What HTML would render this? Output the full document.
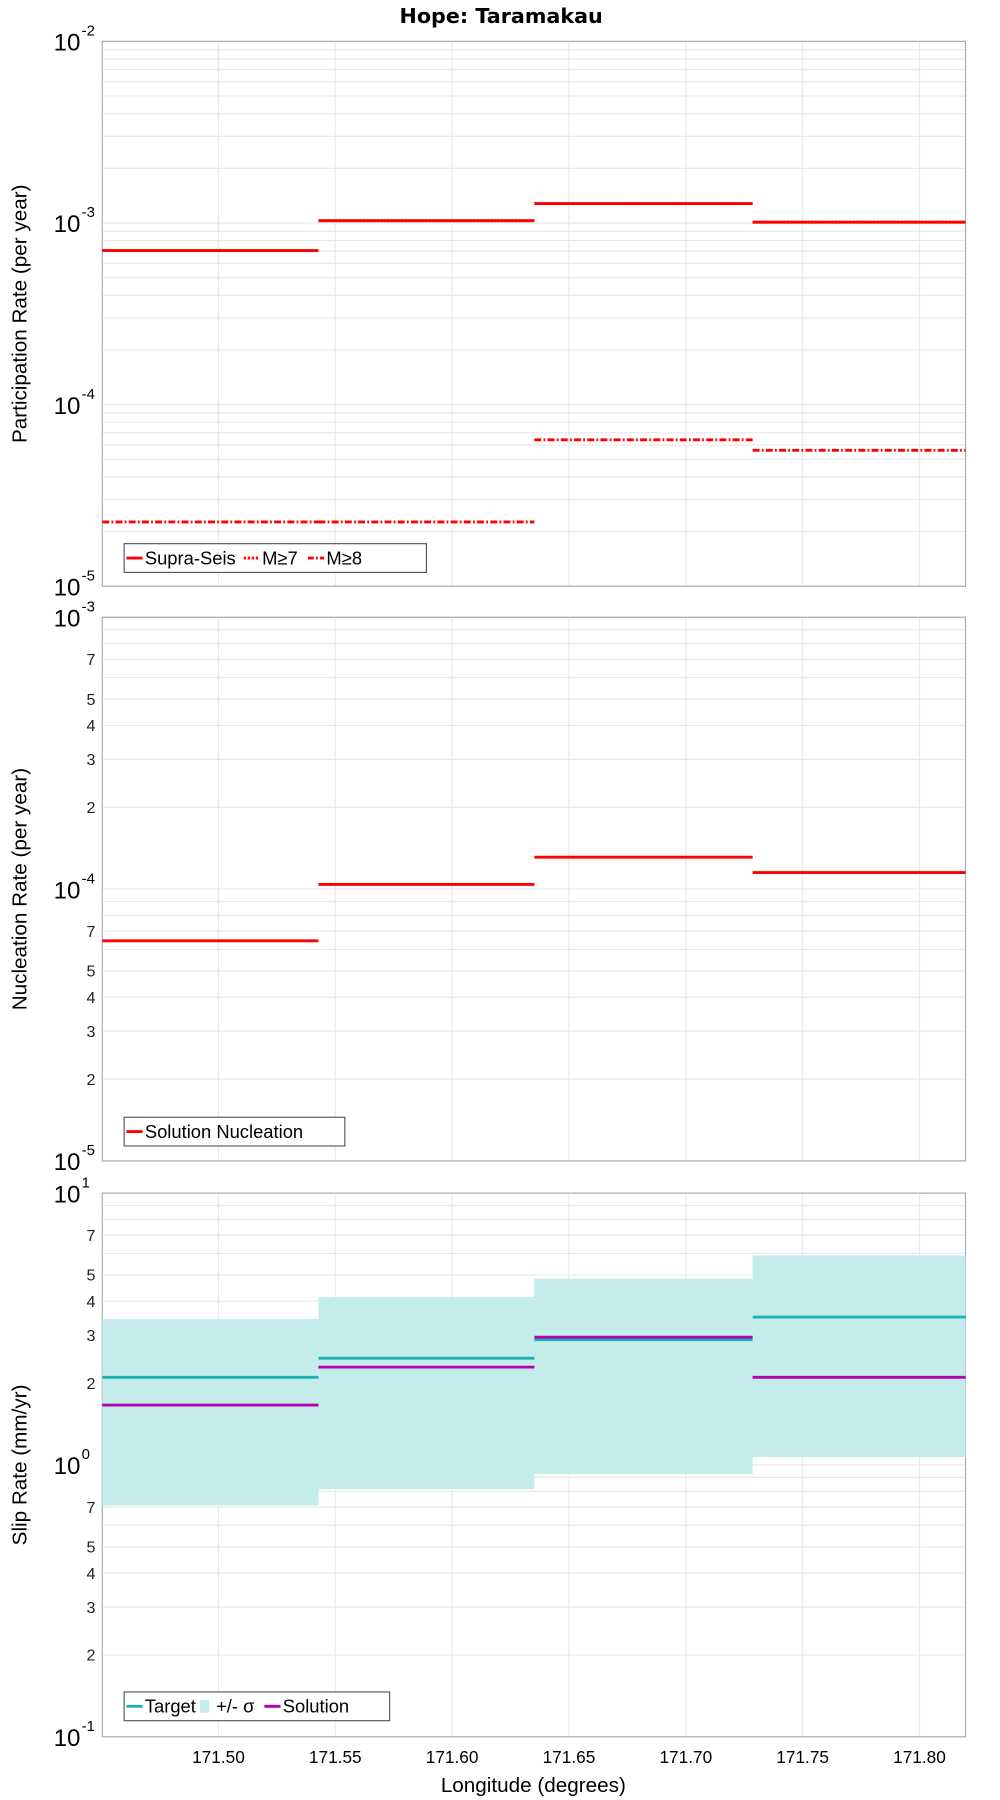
<!DOCTYPE html>
<html><head><meta charset="utf-8"><style>
html,body{margin:0;padding:0;background:#fff;}
svg{display:block;font-family:"Liberation Sans","DejaVu Sans",sans-serif;}
</style></head><body>
<svg id="chart" width="1000" height="1800" viewBox="0 0 870 1566" xmlns="http://www.w3.org/2000/svg">
<text x="436" y="20" text-anchor="middle" font-weight="bold" font-size="18" font-family="DejaVu Sans, sans-serif">Hope: Taramakau</text>
<g id="g"></g>
</svg>
<script>
const xTicks = [171.50, 171.55, 171.60, 171.65, 171.70, 171.75, 171.80];
const segEdges = [171.4503, 171.5428, 171.6352, 171.7286, 171.8197];
const supraSeis = [7.05e-4, 1.03e-3, 1.28e-3, 1.01e-3];
const m7 = [7.05e-4, 1.03e-3, 1.28e-3, 1.01e-3];
const m8 = [2.26e-5, 2.26e-5, 6.4e-5, 5.6e-5];
const nucleation = [6.45e-5, 1.04e-4, 1.31e-4, 1.15e-4];
const slipTarget = [2.1, 2.47, 2.89, 3.5];
const slipSolution = [1.66, 2.29, 2.95, 2.1];
const sigmaHigh = [3.44, 4.14, 4.84, 5.9];
const sigmaLow = [0.71, 0.815, 0.925, 1.07];

const NS = "http://www.w3.org/2000/svg";
const G = document.getElementById('g');
const L = 89, R = 840, X0 = 171.4503, X1 = 171.8197;
function xs(v){ return L + (v - X0) / (X1 - X0) * (R - L); }
function mk(tag, attrs, parent){ const e = document.createElementNS(NS, tag); for (const k in attrs) e.setAttribute(k, attrs[k]); (parent||G).appendChild(e); return e; }

function panel(top, bottom, lo, hi, minorLabels, title, name){
  const ys = v => bottom - (Math.log10(v) - lo) / (hi - lo) * (bottom - top);
  const grp = mk('g', {});
  
  
  for (let d = lo; d < hi; d++) for (let m = 2; m <= 9; m++) {
    const y = ys(m * Math.pow(10, d));
    const gl = mk('line', {x1:L, x2:R, y1:y, y2:y, stroke:'#e8e8e8', 'stroke-width':1}, grp);
    
    
    if (minorLabels && [2,3,4,5,7].includes(m)) {
      const t = mk('text', {x:83, y:y+5, 'text-anchor':'end', 'font-size':14, fill:'#222'}, grp);
      t.textContent = m;
      
      
    }
  }
  for (let d = lo; d <= hi; d++) {
    const y = ys(Math.pow(10, d));
    mk('line', {x1:L, x2:R, y1:y, y2:y, stroke:'#e8e8e8', 'stroke-width':1}, grp);
    const t = mk('text', {x:70, y:y+8, 'text-anchor':'end', 'font-size':21}, grp);
    t.textContent = '10';
    
    
    const s = mk('text', {x:71, y:y-5, 'font-size':13}, grp);
    s.textContent = String(d);
    
    
  }
  xTicks.forEach(v => { mk('line', {x1:xs(v), x2:xs(v), y1:top, y2:bottom, stroke:'#e8e8e8', 'stroke-width':1}, grp); });
  const fr = mk('rect', {x:L, y:top, width:R-L, height:bottom-top, fill:'none', stroke:'#aaa', 'stroke-width':1}, grp);
  
  
  const yt = mk('text', {x:0, y:0, 'text-anchor':'middle', 'font-size':18, transform:`translate(23,${(top+bottom)/2}) rotate(-90)`}, grp);
  yt.textContent = title;
  
  
  return {ys, grp};
}
function steps(p, vals, color, dash, name){
  vals.forEach((v, i) => {
    const y = p.ys(v);
    const a = {x1:xs(segEdges[i]), x2:xs(segEdges[i+1]), y1:y, y2:y, stroke:color, 'stroke-width':2.5};
    if (dash) a['stroke-dasharray'] = dash;
    const l = mk('line', a, p.grp);
    
    
  });
}
function legend(x, y, w, items, name){
  const g = mk('g', {});
  
  
  mk('rect', {x:x, y:y, width:w, height:25, fill:'#fff', stroke:'#555', 'stroke-width':1}, g);
  let cx = x + 2;
  items.forEach(it => {
    if (it.band) mk('rect', {x:cx+2, y:y+7, width:8, height:11, fill:'#c3ecea'}, g);
    else { const a = {x1:cx, x2:cx+14, y1:y+12.5, y2:y+12.5, stroke:it.color, 'stroke-width':2.5}; if (it.dash) a['stroke-dasharray']=it.dash; mk('line', a, g); }
    const t = mk('text', {x:cx+16, y:y+18, 'font-size':16}, g);
    t.textContent = it.label;
    
    
    cx += 16 + it.w;
  });
}

const p1 = panel(36, 510, -5, -2, false, 'Participation Rate (per year)', 'participation');
steps(p1, supraSeis, '#ff0000', null, 'supra-seis');
steps(p1, m7, '#ff0000', '1.5,1.5', 'm7');
steps(p1, m8, '#ff0000', '6,2,1.5,2', 'm8');
legend(108, 473, 263, [{color:'#f00',label:'Supra-Seis',w:86},{color:'#f00',dash:'2,1.5',label:'M≥7',w:40},{color:'#f00',dash:'5,2,1.5,2',label:'M≥8',w:40}], 'participation-legend');

const p2 = panel(537, 1010, -5, -3, true, 'Nucleation Rate (per year)', 'nucleation');
steps(p2, nucleation, '#ff0000', null, 'nucleation');
legend(108, 972, 192, [{color:'#f00',label:'Solution Nucleation',w:170}], 'nucleation-legend');

const p3 = panel(1038, 1511, -1, 1, true, 'Slip Rate (mm/yr)', 'slip');
sigmaHigh.forEach((v, i) => {
  const r = mk('rect', {x:xs(segEdges[i]), y:p3.ys(v), width:xs(segEdges[i+1])-xs(segEdges[i]), height:p3.ys(sigmaLow[i])-p3.ys(v), fill:'#c3ecea'}, p3.grp);
  
  
});
steps(p3, slipTarget, '#1ab3b0', null, 'target');
steps(p3, slipSolution, '#b300b3', null, 'solution');
legend(108, 1472, 231, [{color:'#1ab3b0',label:'Target',w:46},{band:true,label:'+/- σ',w:42},{color:'#b300b3',label:'Solution',w:70}], 'slip-legend');

xTicks.forEach(v => {
  const t = mk('text', {x:xs(v), y:1534, 'text-anchor':'middle', 'font-size':15});
  t.textContent = v.toFixed(2);
  
  
});
const xt = mk('text', {x:464, y:1559, 'text-anchor':'middle', 'font-size':18});
xt.textContent = 'Longitude (degrees)';


</script>
</body></html>
